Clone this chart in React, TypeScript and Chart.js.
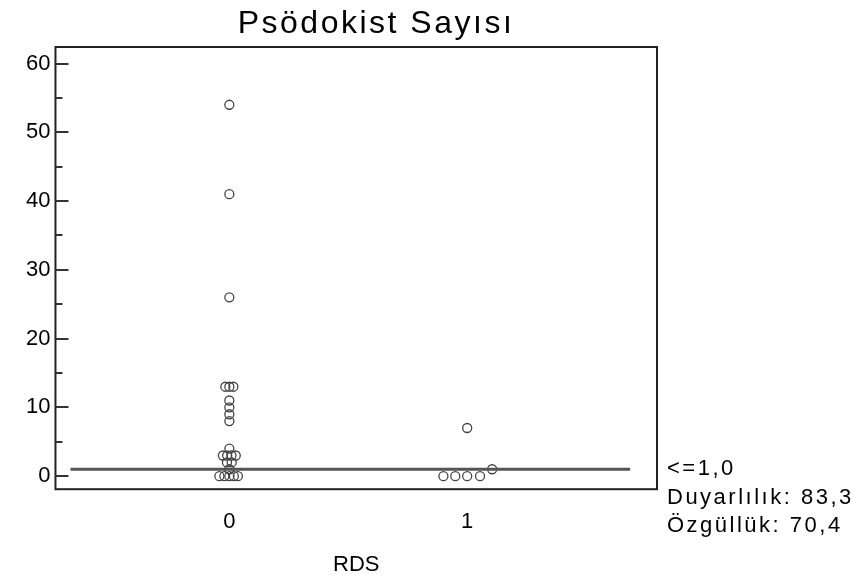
import React, { useEffect, useRef } from "react";
import { Chart, registerables } from "chart.js";

Chart.register(...registerables);

// ---- data ----
const titleText = "Psödokist Sayısı";
const xAxisTitle = "RDS";
const xCategories = [0, 1];
const yTicks = [0, 10, 20, 30, 40, 50, 60];
const yMinorTicks = [5, 15, 25, 35, 45, 55];

// group RDS = 0
const group0Values = [54, 41, 26, 13, 13, 13, 11, 10, 9, 8, 4, 3, 3, 3, 3, 2, 2, 1, 0, 0, 0, 0, 0];
const group0Jitter = [0, 0, 0, -0.017, 0, 0.017, 0, 0, 0, 0, 0, -0.027, -0.009, 0.009, 0.027, -0.01, 0.01, 0, -0.042, -0.021, 0, 0.019, 0.036];
// group RDS = 1
const group1Values = [7, 0, 0, 0, 0, 1];
const group1Jitter = [0, -0.1, -0.05, 0, 0.054, 0.105];

const cutoffValue = 1;
const cutoffSpan = [-0.668, 1.685];
const xRange = [-0.731, 1.798];
const yRange = [-1.9, 62.4];

const statLines = ["<=1,0", "Duyarlılık: 83,3", "Özgüllük: 70,4"];

const FONT = "'Liberation Sans', Arial, sans-serif";

const toPoints = (cat: number, vals: number[], jit: number[]) =>
  vals.map((v, i) => ({ x: cat + jit[i], y: v }));

const framePlugin = {
  id: "frame",
  afterDraw(chart: any) {
    const { ctx, chartArea } = chart;
    const ys = chart.scales.y;
    ctx.save();
    ctx.strokeStyle = "#222";
    ctx.lineWidth = 2;
    ctx.strokeRect(chartArea.left, chartArea.top, chartArea.right - chartArea.left, chartArea.bottom - chartArea.top);
    ctx.lineWidth = 2;
    ctx.strokeStyle = "#333";
    ctx.beginPath();
    yTicks.forEach((t) => {
      const y = Math.round(ys.getPixelForValue(t));
      ctx.moveTo(chartArea.left, y);
      ctx.lineTo(chartArea.left + 13, y);
    });
    yMinorTicks.forEach((t) => {
      const y = Math.round(ys.getPixelForValue(t));
      ctx.moveTo(chartArea.left, y);
      ctx.lineTo(chartArea.left + 7, y);
    });
    ctx.stroke();

    // title
    ctx.fillStyle = "#000";
    ctx.font = `32px ${FONT}`;
    (ctx as any).letterSpacing = "2.5px";
    ctx.textAlign = "center";
    ctx.textBaseline = "middle";
    ctx.fillText(titleText, 376, 24);

    // stats
    ctx.font = `22px ${FONT}`;
    (ctx as any).letterSpacing = "2.5px";
    ctx.textAlign = "left";
    const x0 = chartArea.right + 10;
    statLines.forEach((s, i) => {
      ctx.fillText(s, x0, 469 + i * 28.5);
    });
    ctx.restore();
  },
};

export default function App() {
  const ref = useRef<HTMLCanvasElement>(null);
  useEffect(() => {
    document.body.style.margin = "0";
    const chart = new Chart(ref.current!, {
      type: "scatter",
      data: {
        datasets: [
          {
            label: "cutoff",
            type: "line",
            data: cutoffSpan.map((x) => ({ x, y: cutoffValue })),
            borderColor: "#555",
            borderWidth: 3,
            pointRadius: 0,
          } as any,
          {
            label: "0",
            data: toPoints(xCategories[0], group0Values, group0Jitter),
            pointRadius: 4.5,
            pointBorderWidth: 1.3,
            borderColor: "#444",
            backgroundColor: "rgba(255,255,255,0)",
          },
          {
            label: "1",
            data: toPoints(xCategories[1], group1Values, group1Jitter),
            pointRadius: 4.5,
            pointBorderWidth: 1.3,
            borderColor: "#444",
            backgroundColor: "rgba(255,255,255,0)",
          },
        ],
      },
      options: {
        animation: false,
        responsive: false,
        layout: { padding: { left: 21, top: 47, right: 208, bottom: 1 } },
        plugins: { legend: { display: false }, tooltip: { enabled: false }, title: { display: false } },
        scales: {
          x: {
            type: "linear",
            min: xRange[0],
            max: xRange[1],
            afterBuildTicks: (s: any) => {
              s.ticks = xCategories.map((v) => ({ value: v }));
            },
            grid: { display: false, drawTicks: false },
            border: { display: false },
            ticks: { color: "#000", font: { family: FONT, size: 22 }, padding: 20 },
            title: { display: true, text: xAxisTitle, color: "#000", font: { family: FONT, size: 22 }, padding: { top: -4, bottom: 0 } },
          },
          y: {
            type: "linear",
            min: yRange[0],
            max: yRange[1],
            afterBuildTicks: (s: any) => {
              s.ticks = yTicks.map((v) => ({ value: v }));
            },
            grid: { display: false, drawTicks: false },
            border: { display: false },
            ticks: { color: "#000", font: { family: FONT, size: 22 }, padding: 5 },
          },
        },
      },
      plugins: [framePlugin],
    });
    return () => chart.destroy();
  }, []);
  return <canvas ref={ref} width={865} height={579} style={{ display: "block" }} />;
}
